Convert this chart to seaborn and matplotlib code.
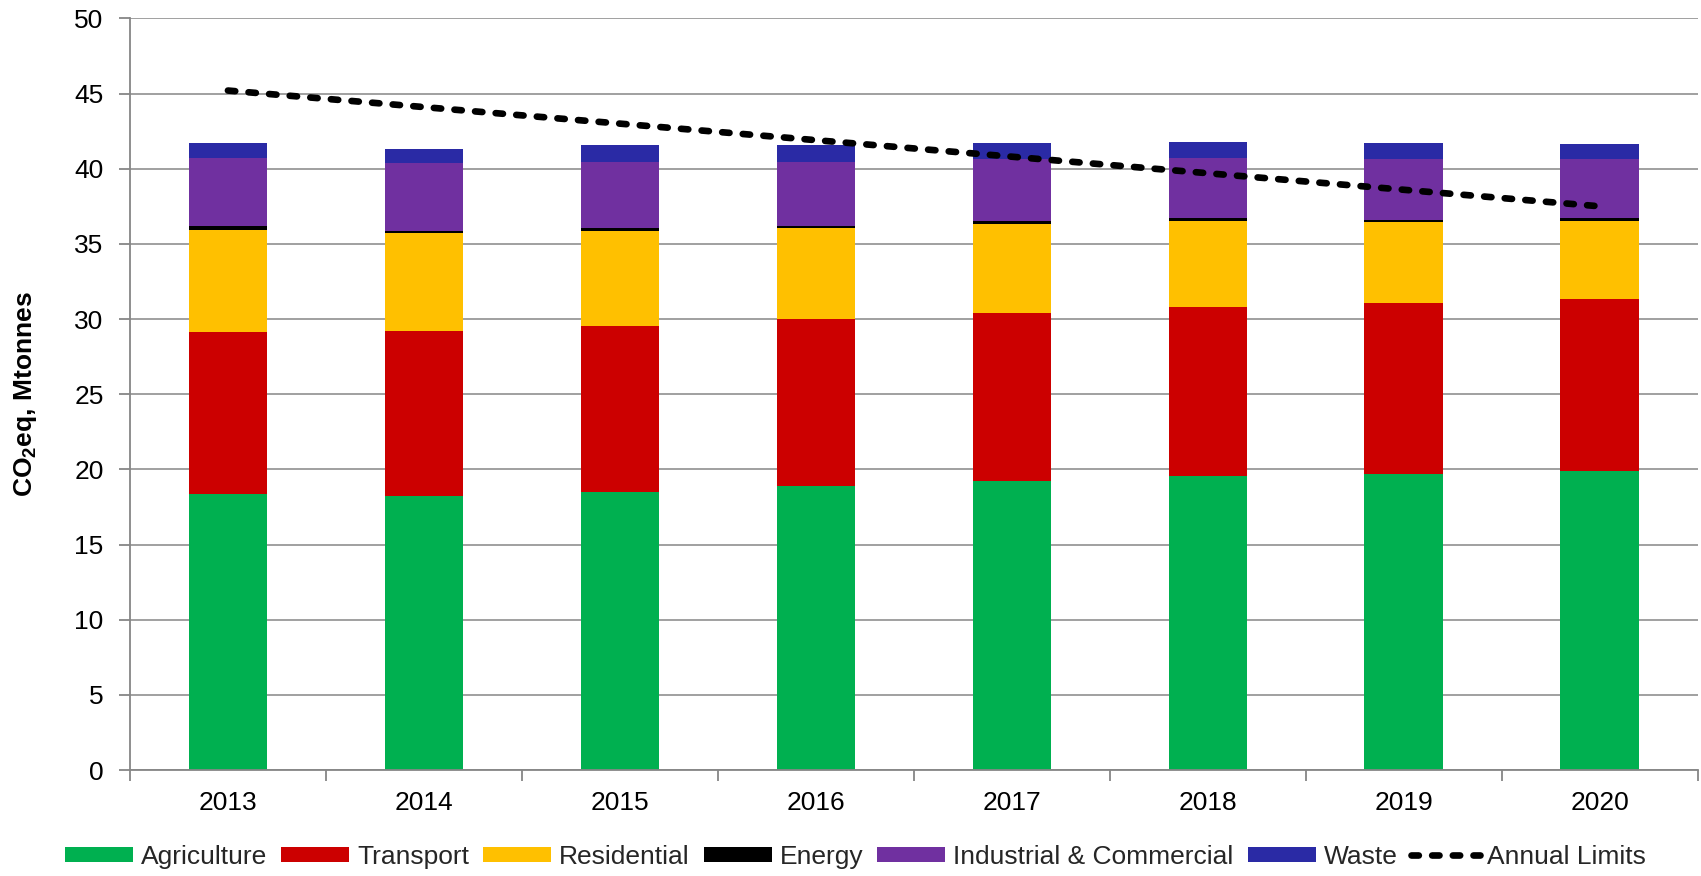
import matplotlib.pyplot as plt
import numpy as np
import pandas as pd
import seaborn as sns
from matplotlib.lines import Line2D
from matplotlib.patches import Patch

years = [2013, 2014, 2015, 2016, 2017, 2018, 2019, 2020]
agriculture = [18.35, 18.20, 18.50, 18.90, 19.20, 19.55, 19.70, 19.90]
transport = [10.81, 10.98, 11.03, 11.07, 11.22, 11.27, 11.40, 11.45]
residential = [6.78, 6.54, 6.30, 6.08, 5.87, 5.67, 5.35, 5.19]
energy = [0.22, 0.15, 0.22, 0.15, 0.20, 0.20, 0.15, 0.15]
industrial = [4.54, 4.50, 4.39, 4.24, 4.15, 4.03, 4.04, 3.95]
waste = [1.02, 0.95, 1.15, 1.13, 1.08, 1.07, 1.06, 1.00]
annual_limits = [45.2, 44.1, 43.0, 41.9, 40.8, 39.7, 38.6, 37.5]

sectors = ["Agriculture", "Transport", "Residential", "Energy",
           "Industrial & Commercial", "Waste"]
sector_values = [agriculture, transport, residential, energy, industrial, waste]
sector_colors = ["#00B050", "#CC0000", "#FFC000", "#000000", "#7030A0", "#2A2AA5"]

sns.set_theme(style="white")
plt.rcParams["font.family"] = ["Liberation Sans", "DejaVu Sans"]
plt.rcParams["mathtext.fontset"] = "custom"
plt.rcParams["mathtext.rm"] = "Liberation Sans"
plt.rcParams["mathtext.bf"] = "Liberation Sans:bold"

emissions = pd.DataFrame(dict(zip(sectors, sector_values)), index=years)
cumulative = emissions.cumsum(axis=1)

fig = plt.figure(figsize=(17.01, 8.76), dpi=100)
ax = fig.add_axes([0.0764, 0.121, 0.9216, 0.858])

# draw cumulative totals from the top layer down so each layer shows
for sector, color in reversed(list(zip(sectors, sector_colors))):
    sns.barplot(
        x=years,
        y=cumulative[sector].values,
        color=color,
        width=0.4,
        native_scale=True,
        linewidth=0,
        saturation=1,
        ax=ax,
    )

sns.lineplot(
    x=years,
    y=annual_limits,
    color="black",
    linewidth=4.8,
    linestyle=(0, (1.1, 2.0)),
    dash_capstyle="round",
    ax=ax,
)

ax.set_xlim(years[0] - 0.5, years[-1] + 0.5)
ax.set_ylim(0, 50)
ax.set_yticks(np.arange(0, 51, 5))
ax.set_xticks(years)
ax.set_xticklabels([str(y) for y in years])
ax.set_xticks(np.arange(years[0] - 0.5, years[-1] + 1, 1), minor=True)
ax.tick_params(axis="x", which="major", length=0, pad=15, labelsize=19,
               labelcolor="black")
ax.tick_params(axis="x", which="minor", length=8, width=1.3, color="#868686",
               bottom=True, direction="out")
ax.tick_params(axis="y", length=8, width=1.3, color="#868686", left=True,
               direction="out", pad=11, labelsize=19, labelcolor="black")

ax.set_axisbelow(True)
ax.yaxis.grid(True, color="#A0A0A0", linewidth=1.4)
ax.xaxis.grid(False)
for side in ["top", "right"]:
    ax.spines[side].set_visible(False)
for side in ["left", "bottom"]:
    ax.spines[side].set_color("#868686")
    ax.spines[side].set_linewidth(1.3)

ax.set_ylabel(r"CO$_\mathbf{2}$eq, Mtonnes", fontsize=19, fontweight="bold",
              color="black")
ax.yaxis.set_label_coords(-0.058, 0.5)
ax.set_xlabel("")

handles = [Patch(facecolor=c, edgecolor="none") for c in sector_colors]
handles.append(Line2D([0], [0], color="black", linewidth=4.8,
                      linestyle=(0, (1.1, 2.0)), dash_capstyle="round"))
labels = sectors + ["Annual Limits"]
fig.legend(
    handles,
    labels,
    loc="center",
    bbox_to_anchor=(0.503, 0.022),
    ncol=7,
    frameon=False,
    fontsize=19,
    handlelength=2.58,
    handleheight=0.53,
    handletextpad=0.3,
    columnspacing=0.53,
    borderaxespad=0,
    borderpad=0,
)

fig.savefig("out.png", dpi=100)
